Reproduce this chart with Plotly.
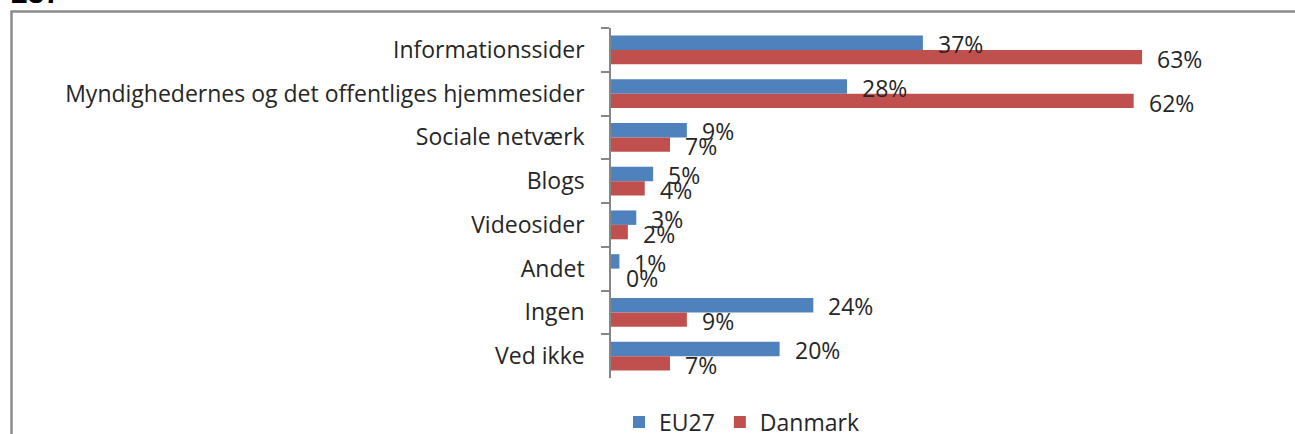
import plotly.graph_objects as go

categories = ["Informationssider", "Myndighedernes og det offentliges hjemmesider",
              "Sociale netværk", "Blogs", "Videosider", "Andet", "Ingen", "Ved ikke"]
eu27 = [37, 28, 9, 5, 3, 1, 24, 20]
danmark = [63, 62, 7, 4, 2, 0, 9, 7]
series_names = ["EU27", "Danmark"]
colors = ["#4F81BD", "#C0504D"]

W, H = 1295, 434
L, R, T, B = 611, 0, 28, 56
pw = W - L - R
ph = H - T - B
px_per_pct = 8.43

FONT = "Open Sans"
FS = 23
TXT = "#262626"


def py(pix):
    """pixel row -> paper y"""
    return (H - B - pix) / ph


def px(pix):
    """pixel column -> paper x"""
    return (pix - L) / pw


fig = go.Figure()
for name, vals, col in zip(series_names, [eu27, danmark], colors):
    fig.add_trace(go.Bar(y=categories, x=vals, name=name, orientation="h",
                         marker=dict(color=col, line=dict(width=0))))

annotations = []
for vals, ys in zip([eu27, danmark], [6, -9]):
    for c, v in zip(categories, vals):
        annotations.append(dict(x=v, y=c, xref="x", yref="y", text=f"{v}%",
                                showarrow=False, xanchor="left", yanchor="middle",
                                xshift=13, yshift=ys,
                                font=dict(family=FONT, size=FS, color=TXT)))

annotations.append(dict(x=px(9), y=py(5), xref="paper", yref="paper",
                        text="<b>237</b>", showarrow=False, xanchor="left", yanchor="bottom",
                        yshift=-6,
                        font=dict(family="Liberation Sans", size=30, color="#000000")))

n = len(categories)
fig.update_layout(
    width=W, height=H,
    margin=dict(l=L, r=R, t=T, b=B, pad=0, autoexpand=False),
    paper_bgcolor="white", plot_bgcolor="white",
    barmode="group", bargap=0.34, bargroupgap=0,
    font=dict(family=FONT, size=FS, color=TXT),
    xaxis=dict(range=[0, pw / px_per_pct], visible=False, fixedrange=True,
               automargin=False),
    yaxis=dict(range=[n - 0.5, -0.5], autorange=False, type="category",
               tickson="boundaries",
               ticks="outside", ticklen=8, tickcolor="#868686", tickwidth=1.5,
               showline=True, linecolor="#868686", linewidth=1.5, automargin=False,
               showgrid=False, ticklabelstandoff=20, fixedrange=True,
               tickfont=dict(family=FONT, size=FS, color=TXT)),
    legend=dict(orientation="h", x=px(619), xanchor="left",
                y=py(422), yanchor="middle",
                font=dict(family=FONT, size=FS, color=TXT),
                itemclick=False, traceorder="normal"),
    annotations=annotations,
    shapes=[dict(type="rect", xref="paper", yref="paper",
                 x0=px(11.5), x1=px(W + 20),
                 y0=py(H + 20), y1=py(11.5),
                 line=dict(color="#8C8C8C", width=2.5), fillcolor="rgba(0,0,0,0)",
                 layer="below")],
    showlegend=True,
)

fig.write_html("out.html", config={"displayModeBar": False},
               post_script="document.body.style.margin='0';")
